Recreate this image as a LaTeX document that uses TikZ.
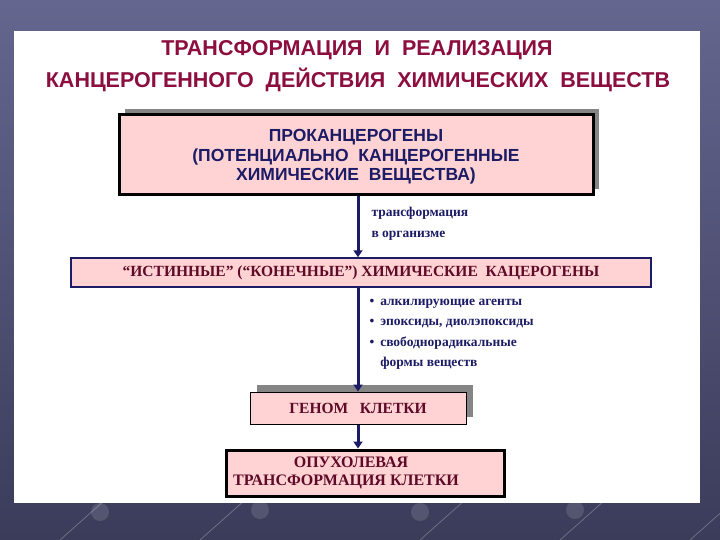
\documentclass[tikz,border=0pt]{standalone}
\usepackage{fontspec}
\setmainfont{Liberation Serif}
\newfontfamily\headfont{Liberation Sans}
\usetikzlibrary{arrows.meta,positioning}
\definecolor{slatetop}{HTML}{65668F}
\definecolor{slatebot}{HTML}{3B3C5A}
\definecolor{navy}{HTML}{1C1C66}
\definecolor{crimson}{HTML}{8C0E3E}
\definecolor{maroon}{HTML}{5E0A28}
\definecolor{pinkfill}{HTML}{FFD3D3}
\definecolor{shadowgray}{HTML}{858585}

\begin{document}
\begin{tikzpicture}[x=1pt,y=-1pt,>=Latex]
\tikzset{box/.style={draw,fill=pinkfill,inner sep=0pt,align=center},
  shadowbox/.style={fill=shadowgray,inner sep=0pt},
  flow/.style={line width=3pt,navy,-{Triangle[length=7pt,width=9pt]}},
  note/.style={font=\bfseries\fontsize{13.5}{20.5}\selectfont,text=navy,align=left}}
% background and panel
\useasboundingbox (0,0) rectangle (720,540);
\shade[top color=slatetop,bottom color=slatebot] (0,0) rectangle (720,540);
\begin{scope}
\clip (0,0) rectangle (720,540);
\foreach \x in {60,200,420,560,690}
  \draw[white,opacity=0.25,line width=0.8pt] (\x,540) -- ++(45,-40);
\foreach \x/\y in {100/512,260/510,420/512,575/510}
  \fill[white,opacity=0.12] (\x,\y) circle (9pt);
\end{scope}
\fill[white] (14,31) rectangle (700,503);
% title
\node[font=\headfont\bfseries\fontsize{21.5}{26}\selectfont,text=crimson] (title1) at (357,50) {ТРАНСФОРМАЦИЯ\ \ И\ \ РЕАЛИЗАЦИЯ};
\node[font=\headfont\bfseries\fontsize{21.5}{26}\selectfont,text=crimson] (title2) at (358,80) {КАНЦЕРОГЕННОГО\ \ ДЕЙСТВИЯ\ \ ХИМИЧЕСКИХ\ \ ВЕЩЕСТВ};
% boxes
\node[shadowbox,minimum width=474pt,minimum height=80pt] (procshadow) at (362,149) {};
\node[box,line width=3pt,minimum width=474pt,minimum height=80pt,font=\headfont\bfseries\fontsize{17.5}{19.5}\selectfont,text=navy] (proc) at (356,155) {\rule{0pt}{16pt}ПРОКАНЦЕРОГЕНЫ\\(ПОТЕНЦИАЛЬНО\ \ КАНЦЕРОГЕННЫЕ\\ХИМИЧЕСКИЕ\ \ ВЕЩЕСТВА)};
\node[box,draw=navy,line width=1.5pt,minimum width=580pt,minimum height=29pt,font=\bfseries\fontsize{15.5}{17}\selectfont,text=maroon] (ult) at (361,272.5) {“ИСТИННЫЕ” (“КОНЕЧНЫЕ”) ХИМИЧЕСКИЕ\ \ КАЦЕРОГЕНЫ};
\node[shadowbox,minimum width=216pt,minimum height=32pt] (genoshadow) at (365,401) {};
\node[box,line width=1pt,minimum width=216pt,minimum height=32pt,font=\bfseries\fontsize{15.5}{17}\selectfont,text=maroon] (geno) at (358,408) {ГЕНОМ\ \ \ КЛЕТКИ};
\node[box,line width=3pt,minimum width=278pt,minimum height=46pt,font=\bfseries\fontsize{16}{18}\selectfont,text=maroon] (tumor) at (365,473) {ОПУХОЛЕВАЯ\hspace*{28pt}\\ТРАНСФОРМАЦИЯ КЛЕТКИ\hspace*{38pt}};
% labels
\node[note,anchor=west] (transf) at (368,224) {трансформация\\в организме};
\node[note,anchor=west] (agents) at (366,332) {\begin{tabular}{@{}l@{\hspace{6pt}}l@{}}
\textbullet & алкилирующие агенты\\
\textbullet & эпоксиды, диолэпоксиды\\
\textbullet & свободнорадикальные\\
 & формы веществ
\end{tabular}};
% arrows
\draw[flow] (geno.north |- proc.south) -- (geno.north |- ult.north);
\draw[flow] (geno.north |- ult.south) -- (geno.north);
\draw[flow] (geno.south) -- (geno.south |- tumor.north);
\end{tikzpicture}
\end{document}
